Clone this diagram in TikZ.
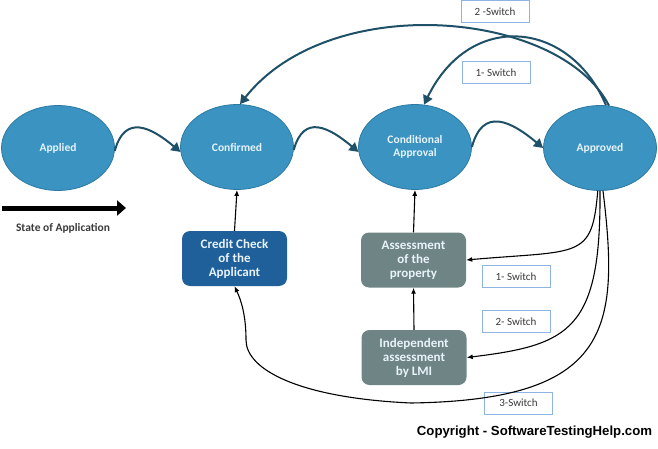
\documentclass[tikz,border=0pt]{standalone}
\usepackage{fontspec}
\setmainfont{Carlito}
\newfontfamily\arialfont{Liberation Sans}
\usetikzlibrary{shapes.geometric,arrows.meta}
\definecolor{ellfill}{HTML}{3A93C0}
\definecolor{elledge}{HTML}{2C7AA3}
\definecolor{ccfill}{HTML}{1F5F9A}
\definecolor{grayfill}{HTML}{6F8484}
\definecolor{teal}{HTML}{1E5068}
\definecolor{swedge}{HTML}{8EB4E3}
\definecolor{txtlight}{HTML}{E8F3FA}
\definecolor{txtdark}{HTML}{3A3A3A}
\tikzset{
  state/.style={ellipse, fill=ellfill, draw=elledge, line width=0.8pt, minimum width=113pt, minimum height=85pt, inner sep=0pt, text=txtlight, font=\bfseries\fontsize{11.5}{13}\selectfont, align=center},
  proc/.style={rectangle, rounded corners=8pt, minimum width=105pt, minimum height=55pt, inner sep=0pt, text=txtlight, font=\bfseries\fontsize{13}{14}\selectfont, align=center},
  swbox/.style={rectangle, draw=swedge, line width=1pt, fill=white, minimum width=68pt, minimum height=22pt, inner sep=0pt, text=txtdark, font=\fontsize{11}{12}\selectfont},
  flow/.style={teal, line width=2pt, -{Triangle[length=9pt,width=10pt]}},
  thin/.style={black, line width=1.1pt, -{Latex[length=6pt,width=5pt]}},
}
\begin{document}
\begin{tikzpicture}[x=1pt,y=-1pt]
\useasboundingbox (0,0) rectangle (658,449);
% states
\node[state] (app) at (58,148) {Applied};
\node[state] (conf) at (237,147) {Confirmed};
\node[state] (cond) at (415,147) {Conditional\\Approval};
\node[state] (appr) at (600,148) {Approved};
% process boxes
\node[proc, fill=ccfill] (cc) at (234.5,258.5) {Credit Check\\of the\\Applicant};
\node[proc, fill=grayfill] (asp) at (413.5,260) {Assessment\\of the\\property};
\node[proc, fill=grayfill] (ind) at (414,357.5) {Independent\\assessment\\by LMI};
% switch labels
\node[swbox] (s2top) at (495,12) {2 -Switch};
\node[swbox] (s1top) at (496,72.5) {1- Switch};
\node[swbox] (s1low) at (516,276.5) {1- Switch};
\node[swbox] (s2low) at (516,321.5) {2- Switch};
\node[swbox] (s3low) at (518.5,403) {3-Switch};
% state of application arrow
\coordinate (sa) at (2,208);
\coordinate (sb) at (126,208);
\draw[black, line width=5pt, -{Triangle[length=9pt,width=15pt]}] (sa) -- (sb);
\node[text=txtdark, font=\bfseries\fontsize{11.5}{12}\selectfont] (soa) at (63,228) {State of Application};
% copyright
\node[font=\arialfont\bfseries\fontsize{13.2}{14}\selectfont] (copy) at (534.5,432.5) {Copyright - SoftwareTestingHelp.com};
% forward flow
\draw[flow] (app.-3) to[out=75,in=140,looseness=1.5] (conf.185);
\draw[flow] (conf.-3) to[out=75,in=140,looseness=1.5] (cond.185);
\draw[flow] (cond.0) to[out=75,in=140,looseness=1.5] (appr.180);
% switch-back arcs
\draw[flow] (appr.78) .. controls (560,10) and (330,-10) .. (conf.86);
\draw[flow] (appr.82) .. controls (570,20) and (470,10) .. (cond.78);
% vertical arrows
\draw[thin] (cc.north) -- (conf.south);
\draw[thin] (asp.north) -- (cond.south);
\draw[thin] (ind.north) -- (asp.south);
% lower switch paths
\draw[thin] (appr.-93) .. controls (592,260) and (580,250) .. (asp.east);
\draw[thin] (appr.-90) .. controls (601,330) and (570,345) .. (ind.east);
\coordinate (low) at (411,403);
\coordinate (bend) at (246,340);
\draw[thin] (appr.-86) .. controls (620,330) and (610,400) .. (low)
  .. controls (300,398) and (246,370) .. (bend)
  .. controls (246,315) and (241,300) .. (cc.south);
\end{tikzpicture}
\end{document}
